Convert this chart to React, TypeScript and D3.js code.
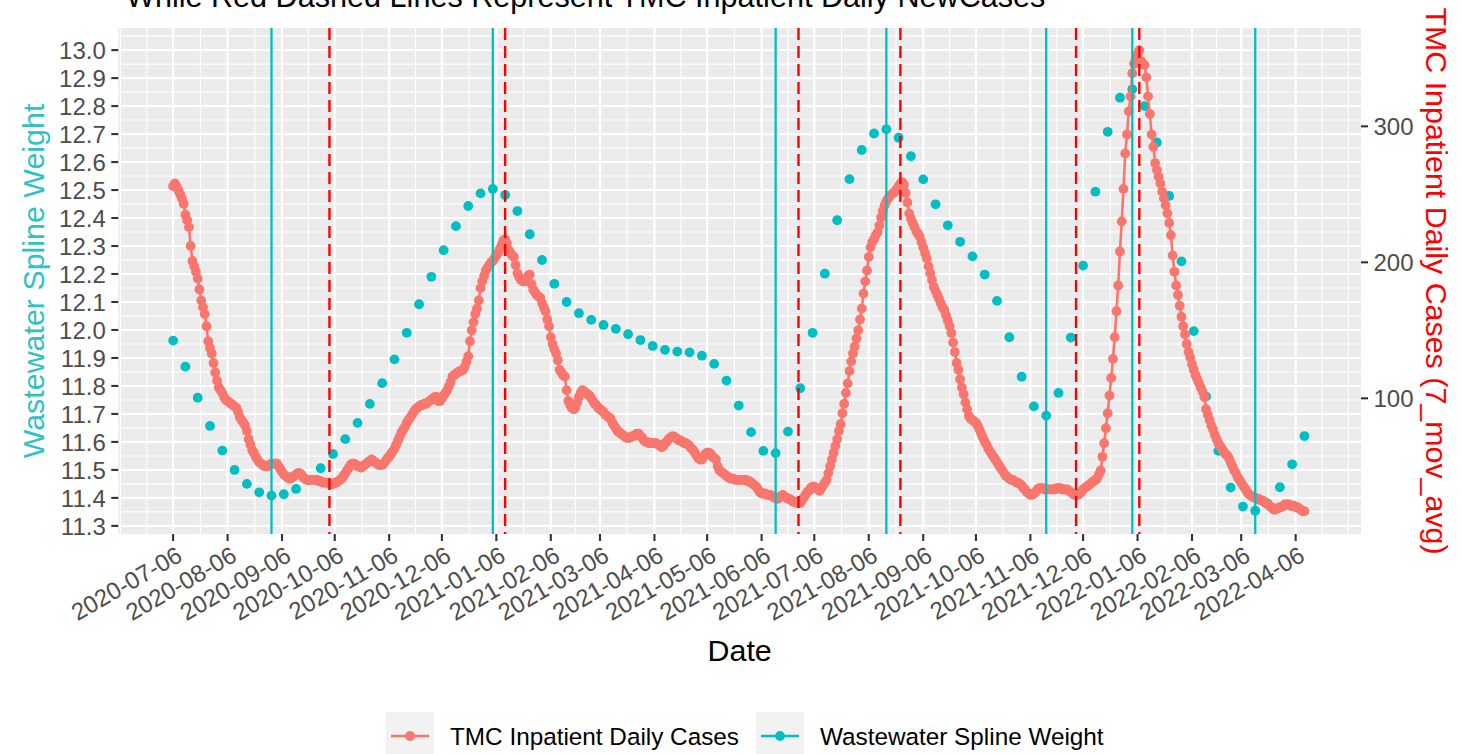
import React from 'react';
import * as d3 from 'd3';

const W = 1462;
const H = 754;
const FONT = '"Liberation Sans", Arial, Helvetica, sans-serif';
const DAY = 86400000;

// ---------- data ----------
const seriesStart = '2020-07-06';

// TMC inpatient daily cases (7-day moving average), daily from 2020-07-06
const inpatientCases = [
  256, 258, 256, 253, 250, 247, 243, 235, 231, 226,
  212, 201, 197, 193, 188, 180, 172, 167, 162, 153,
  142, 137, 133, 126, 119, 113, 108, 106, 104, 101,
  99, 98, 97, 96, 95, 94, 93, 90, 86, 84,
  82, 80, 76, 70, 66, 62, 60, 57, 55, 53,
  52, 51, 50, 50, 50, 51, 52, 52, 52, 52,
  50, 48, 46, 44, 43, 42, 41, 41, 42, 43,
  44, 45, 45, 44, 42, 41, 40, 40, 40, 40,
  40, 40, 40, 39, 39, 38, 38, 38, 38, 37,
  37, 37, 38, 38, 39, 40, 41, 43, 45, 47,
  49, 51, 52, 52, 51, 50, 50, 49, 50, 51,
  52, 53, 54, 55, 54, 53, 52, 51, 51, 51,
  52, 54, 56, 57, 59, 61, 63, 66, 69, 72,
  75, 77, 79, 82, 84, 86, 88, 90, 92, 93,
  94, 95, 95, 96, 96, 97, 98, 99, 100, 101,
  101, 98, 98, 100, 102, 104, 106, 109, 112, 116,
  117, 118, 119, 120, 120, 121, 123, 127, 131, 142,
  150, 156, 162, 166, 172, 181, 186, 190, 194, 196,
  198, 200, 201, 203, 205, 207, 210, 213, 216, 217,
  214, 209, 207, 205, 204, 198, 192, 189, 187, 186,
  186, 188, 190, 191, 184, 180, 178, 176, 175, 174,
  170, 167, 164, 158, 153, 145, 140, 136, 133, 128,
  121, 119, 117, 116, 106, 98, 95, 93, 92, 93,
  97, 101, 104, 106, 105, 104, 103, 102, 100, 98,
  96, 95, 93, 92, 91, 90, 88, 87, 86, 85,
  82, 80, 78, 76, 75, 74, 73, 72, 71, 71,
  71, 72, 72, 73, 74, 74, 72, 71, 69, 68,
  68, 67, 67, 67, 67, 67, 66, 65, 64, 65,
  67, 68, 70, 71, 72, 72, 71, 70, 69, 69,
  68, 67, 67, 66, 65, 63, 62, 60, 58, 56,
  55, 55, 57, 59, 60, 60, 59, 57, 56, 55,
  50, 47, 46, 45, 44, 43, 42, 41, 41, 41,
  40, 40, 40, 40, 40, 40, 40, 39, 39, 38,
  37, 36, 35, 33, 31, 30, 30, 30, 29, 29,
  29, 28, 27, 27, 26, 27, 28, 29, 28, 27,
  26, 26, 25, 24, 24, 23, 23, 23, 25, 27,
  29, 31, 32, 34, 35, 35, 34, 33, 32, 34,
  36, 38, 40, 45, 50, 55, 60, 65, 70, 76,
  81, 89, 96, 104, 111, 120, 127, 133, 138, 144,
  150, 158, 166, 177, 186, 194, 204, 211, 215, 217,
  220, 222, 227, 233, 238, 242, 245, 247, 249, 250,
  251, 252, 254, 256, 258, 259, 257, 251, 244, 236,
  232, 229, 226, 223, 221, 219, 215, 211, 207, 203,
  197, 192, 187, 182, 179, 176, 173, 170, 167, 165,
  161, 157, 153, 148, 141, 134, 126, 121, 114, 108,
  103, 97, 92, 87, 85, 84, 83, 82, 80, 77,
  74, 71, 68, 66, 63, 61, 59, 57, 55, 53,
  51, 49, 47, 45, 43, 42, 41, 40, 40, 39,
  38, 38, 37, 36, 34, 33, 31, 30, 29, 29,
  30, 31, 33, 34, 34, 34, 33, 33, 33, 33,
  33, 33, 33, 34, 34, 34, 33, 33, 33, 33,
  32, 31, 30, 29, 29, 29, 30, 31, 33, 34,
  35, 36, 37, 38, 39, 40, 41, 44, 47, 57,
  67, 78, 89, 102, 115, 129, 145, 164, 183, 208,
  230, 254, 280, 294, 311, 322, 339, 346, 350, 353,
  356, 348, 346, 345, 336, 322, 309, 294, 285, 273,
  268, 263, 258, 252, 247, 242, 236, 229, 220, 205,
  193, 183, 176, 168, 160, 153, 147, 140, 134, 130,
  125, 121, 117, 114, 111, 108, 105, 101, 92, 88,
  84, 80, 77, 73, 70, 67, 65, 63, 61, 59,
  58, 56, 53, 50, 47, 45, 42, 40, 38, 36,
  34, 32, 30, 29, 28, 27, 27, 26, 26, 25,
  25, 24, 23, 22, 21, 20, 19, 18, 19, 19,
  20, 20, 21, 22, 22, 22, 21, 21, 21, 20,
  20, 19, 18, 17, 17,
];

// Wastewater spline weight, weekly from 2020-07-06
const wastewaterWeight = [
  11.962, 11.869, 11.758, 11.657, 11.569, 11.500, 11.450, 11.420, 11.408, 11.413,
  11.432, 11.464, 11.506, 11.557, 11.610, 11.668, 11.736, 11.810, 11.895, 11.990,
  12.092, 12.190, 12.285, 12.371, 12.443, 12.488, 12.504, 12.482, 12.425, 12.342,
  12.250, 12.165, 12.100, 12.060, 12.036, 12.018, 12.004, 11.985, 11.964, 11.943,
  11.929, 11.923, 11.920, 11.908, 11.879, 11.819, 11.730, 11.635, 11.568, 11.560,
  11.637, 11.792, 11.990, 12.201, 12.392, 12.539, 12.643, 12.702, 12.717, 12.687,
  12.621, 12.538, 12.449, 12.374, 12.315, 12.263, 12.198, 12.104, 11.974, 11.833,
  11.727, 11.694, 11.775, 11.973, 12.230, 12.494, 12.708, 12.830, 12.860, 12.800,
  12.670, 12.479, 12.245, 11.996, 11.762, 11.568, 11.437, 11.369, 11.354, 11.380,
  11.438, 11.520, 11.621,
];

// extrema markers
const wastewaterLineDates = ['2020-08-31', '2021-01-04', '2021-06-14', '2021-08-16', '2021-11-15', '2022-01-03', '2022-03-14'];
const inpatientLineDates = ['2020-10-03', '2021-01-11', '2021-06-27', '2021-08-24', '2021-12-02', '2022-01-07'];

// axes
const xTickLabels = [
  '2020-07-06', '2020-08-06', '2020-09-06', '2020-10-06', '2020-11-06', '2020-12-06',
  '2021-01-06', '2021-02-06', '2021-03-06', '2021-04-06', '2021-05-06', '2021-06-06',
  '2021-07-06', '2021-08-06', '2021-09-06', '2021-10-06', '2021-11-06', '2021-12-06',
  '2022-01-06', '2022-02-06', '2022-03-06', '2022-04-06',
];
const leftTicks = [11.3, 11.4, 11.5, 11.6, 11.7, 11.8, 11.9, 12.0, 12.1, 12.2, 12.3, 12.4, 12.5, 12.6, 12.7, 12.8, 12.9, 13.0];
const rightTicks = [100, 200, 300];

const titleText = 'While Red Dashed Lines Represent TMC Inpatient Daily NewCases';
const xTitle = 'Date';
const leftTitle = 'Wastewater Spline Weight';
const rightTitle = 'TMC Inpatient Daily Cases (7_mov_avg)';
const legendLabels = ['TMC Inpatient Daily Cases', 'Wastewater Spline Weight'];

// ---------- styling ----------
const RED = '#F8766D';
const TEAL = '#00BFC4';
const PANEL = { left: 118.3, right: 1361, top: 28, bottom: 534 };
const PT_R = 4.9;

const parse = (s: string) => new Date(s + 'T00:00:00Z');

export default function App() {
  const t0 = parse(seriesStart).getTime();
  const x = d3
    .scaleUtc()
    .domain([new Date(t0 - 31.2 * DAY), new Date(t0 + 676.2 * DAY)])
    .range([PANEL.left, PANEL.right]);
  const yL = d3.scaleLinear().domain([11.271, 13.079]).range([PANEL.bottom, PANEL.top]);
  const yR = d3.scaleLinear().domain([0, 372.3]).range([534.3, PANEL.top]);

  const redPts = inpatientCases.map((v, i) => ({ t: new Date(t0 + i * DAY), v }));
  const tealPts = wastewaterWeight.map((v, i) => ({ t: new Date(t0 + i * 7 * DAY), v }));

  const line = d3
    .line<{ t: Date; v: number }>()
    .x((d) => x(d.t))
    .y((d) => yR(d.v));

  const tickDates = xTickLabels.map(parse);
  const ext = [d3.utcMonth.offset(tickDates[0], -1), ...tickDates, d3.utcMonth.offset(tickDates[tickDates.length - 1], 1)];
  const minorX: number[] = [x(ext[0]), x(ext[ext.length - 1])];
  for (let i = 0; i < ext.length - 1; i++) {
    minorX.push((x(ext[i]) + x(ext[i + 1])) / 2);
  }
  const minorY: number[] = [];
  const extY = [leftTicks[0] - 0.1, ...leftTicks, leftTicks[leftTicks.length - 1] + 0.1];
  for (let i = 0; i < extY.length - 1; i++) minorY.push((extY[i] + extY[i + 1]) / 2);

  const textGrey = '#4D4D4D';
  const tickGrey = '#333333';

  return (
    <svg
      width={W}
      height={H}
      style={{ position: 'absolute', left: 0, top: 0, background: '#fff' }}
      fontFamily={FONT}
    >
      <defs>
        <clipPath id="panel">
          <rect x={PANEL.left} y={PANEL.top} width={PANEL.right - PANEL.left} height={PANEL.bottom - PANEL.top} />
        </clipPath>
      </defs>
      <rect x={0} y={0} width={W} height={H} fill="#fff" />
      {/* title (partly outside the top edge, as in the source image) */}
      <text x={126} y={7} fontSize={30.6} fill="#000">
        {titleText}
      </text>

      {/* panel */}
      <rect x={PANEL.left} y={PANEL.top} width={PANEL.right - PANEL.left} height={PANEL.bottom - PANEL.top} fill="#EBEBEB" />
      <g clipPath="url(#panel)">
        {minorX.map((px, i) => (
          <line key={'mx' + i} x1={px} x2={px} y1={PANEL.top} y2={PANEL.bottom} stroke="#fff" strokeWidth={1.07} />
        ))}
        {minorY.map((v, i) => (
          <line key={'my' + i} x1={PANEL.left} x2={PANEL.right} y1={yL(v)} y2={yL(v)} stroke="#fff" strokeWidth={1.07} />
        ))}
        {tickDates.map((d, i) => (
          <line key={'Mx' + i} x1={x(d)} x2={x(d)} y1={PANEL.top} y2={PANEL.bottom} stroke="#fff" strokeWidth={2.13} />
        ))}
        {leftTicks.map((v, i) => (
          <line key={'My' + i} x1={PANEL.left} x2={PANEL.right} y1={yL(v)} y2={yL(v)} stroke="#fff" strokeWidth={2.13} />
        ))}

        {/* wastewater points */}
        {tealPts.map((d, i) => (
          <circle key={'tp' + i} cx={x(d.t)} cy={yL(d.v)} r={PT_R} fill={TEAL} />
        ))}
        {/* inpatient line + points */}
        <path d={line(redPts) || ''} fill="none" stroke={RED} strokeWidth={2.6} />
        {redPts.map((d, i) => (
          <circle key={'rp' + i} cx={x(d.t)} cy={yR(d.v)} r={PT_R} fill={RED} />
        ))}

        {/* vertical markers */}
        {wastewaterLineDates.map((s, i) => (
          <line key={'wl' + i} x1={x(parse(s))} x2={x(parse(s))} y1={PANEL.top} y2={PANEL.bottom} stroke={TEAL} strokeWidth={2.3} />
        ))}
        {inpatientLineDates.map((s, i) => (
          <line
            key={'il' + i}
            x1={x(parse(s))}
            x2={x(parse(s))}
            y1={PANEL.top}
            y2={PANEL.bottom}
            stroke="#FF0000"
            strokeWidth={2.4}
            strokeDasharray="12 6"
          />
        ))}
      </g>

      {/* left axis */}
      {leftTicks.map((v, i) => (
        <g key={'la' + i}>
          <line x1={PANEL.left - 7} x2={PANEL.left} y1={yL(v)} y2={yL(v)} stroke={tickGrey} strokeWidth={2.1} />
          <text x={PANEL.left - 12.5} y={yL(v)} dy="0.36em" textAnchor="end" fontSize={24} fill={textGrey}>
            {v.toFixed(1)}
          </text>
        </g>
      ))}
      {/* right axis */}
      {rightTicks.map((v, i) => (
        <g key={'ra' + i}>
          <line x1={PANEL.right} x2={PANEL.right + 7} y1={yR(v)} y2={yR(v)} stroke={tickGrey} strokeWidth={2.1} />
          <text x={PANEL.right + 12.5} y={yR(v)} dy="0.36em" textAnchor="start" fontSize={24} fill={textGrey}>
            {v}
          </text>
        </g>
      ))}
      {/* bottom axis */}
      {tickDates.map((d, i) => (
        <g key={'ba' + i}>
          <line x1={x(d)} x2={x(d)} y1={PANEL.bottom} y2={PANEL.bottom + 7} stroke={tickGrey} strokeWidth={2.1} />
          <g transform={`translate(${x(d) + 2},${PANEL.bottom + 11})rotate(-30)`}>
            <text x={0} y={0} dy="0.72em" textAnchor="end" fontSize={24} fill={textGrey}>
              {xTickLabels[i]}
            </text>
          </g>
        </g>
      ))}

      {/* axis titles */}
      <text x={(PANEL.left + PANEL.right) / 2} y={661} textAnchor="middle" fontSize={30.4} fill="#000">
        {xTitle}
      </text>
      <text transform={`translate(44,${(PANEL.top + PANEL.bottom) / 2})rotate(-90)`} textAnchor="middle" fontSize={30.4} fill="#2EC1C6">
        {leftTitle}
      </text>
      <text transform={`translate(1426,${(PANEL.top + PANEL.bottom) / 2})rotate(90)`} textAnchor="middle" fontSize={30.4} fill="#FF0000">
        {rightTitle}
      </text>

      {/* legend */}
      {[
        { kx: 386, tx: 450, color: RED, label: legendLabels[0] },
        { kx: 756, tx: 820, color: TEAL, label: legendLabels[1] },
      ].map((k, i) => (
        <g key={'lg' + i}>
          <rect x={k.kx} y={712} width={48} height={48} fill="#F2F2F2" />
          <line x1={k.kx + 5} x2={k.kx + 43} y1={736} y2={736} stroke={k.color} strokeWidth={2.6} />
          <circle cx={k.kx + 24} cy={736} r={PT_R} fill={k.color} />
          <text x={k.tx} y={736} dy="0.36em" fontSize={24.3} fill="#000">
            {k.label}
          </text>
        </g>
      ))}
    </svg>
  );
}
